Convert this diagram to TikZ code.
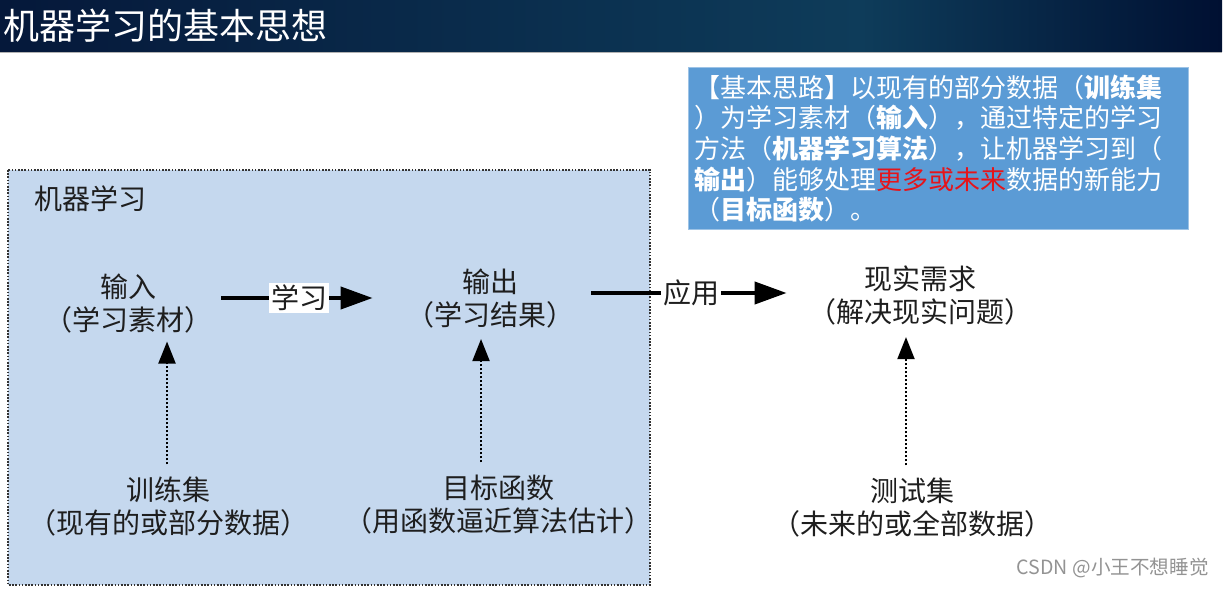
\documentclass[tikz,border=0pt]{standalone}
\usepackage{fontspec}
\setmainfont{Noto Sans CJK SC}
\usetikzlibrary{arrows.meta,calc}
\definecolor{tleft}{RGB}{5,24,58}
\definecolor{tmid}{RGB}{14,60,90}
\definecolor{tright}{RGB}{0,16,50}
\definecolor{boxblue}{RGB}{197,216,238}
\definecolor{infoblue}{RGB}{91,155,213}
\definecolor{hotred}{RGB}{230,20,26}
\definecolor{bodytext}{RGB}{30,30,30}
\begin{document}
\begin{tikzpicture}[x=0.5pt,y=-0.5pt,
  body/.style={align=center,inner sep=0pt,text=bodytext,font=\fontsize{14}{16.5}\selectfont},
  bigarr/.style={line width=2pt,-{Triangle[length=16pt,width=11pt]}},
  dotarr/.style={line width=1pt,dash pattern=on 1pt off 1pt,-{Triangle[length=11pt,width=8.5pt]}},
  arrlabel/.style={fill=white,inner sep=1pt,text=bodytext,font=\fontsize{14}{16.5}\selectfont}]
\useasboundingbox (0,0) rectangle (1224,588);
% title bar
\shade[left color=tleft,right color=tmid] (0,0) rectangle (860,52);
\shade[left color=tmid,right color=tright] (860,0) rectangle (1222,52);
\draw[gray!60,line width=0.6pt] (0,52.5) -- (1222,52.5);
\node[anchor=west,inner sep=0pt,text=white,font=\fontsize{18}{20}\selectfont] (title) at (3,26) {机器学习的基本思想};
% machine learning box
\draw[fill=boxblue,draw=gray!40!black,line width=0.9pt,dash pattern=on 0.8pt off 0.8pt] (8,170) rectangle (650,585);
\node[body,font=\fontsize{14}{16}\selectfont] (mltitle) at (90,199) {机器学习};
% nodes
\node[body] (in) at (128,303.5) {输入\\（学习素材）};
\node[body] (out) at (490,299) {输出\\（学习结果）};
\node[body] (need) at (920,295) {现实需求\\（解决现实问题）};
\node[body] (train) at (168,506.5) {训练集\\（现有的或部分数据）};
\node[body] (tgt) at (498,504.5) {目标函数\\（用函数逼近算法估计）};
\node[body] (test) at (912,507.5) {测试集\\（未来的或全部数据）};
% solid arrows
\draw[bigarr,shorten <=4.5pt,shorten >=16.5pt] ([yshift=2.75pt]in.east) -- ([yshift=2.75pt]in.east -| out.west)
  node[arrlabel,pos=0.45] (learn) {学习};
\draw[bigarr,shorten <=8.5pt,shorten >=10.5pt] ([yshift=3pt]out.east) -- ([yshift=3pt]out.east -| need.west)
  node[arrlabel,pos=0.5] (apply) {应用};
% dotted arrows
\draw[dotarr] ($(train.north)+(-1,-12)$) -- ($(train.north |- in.south)+(-1,8)$);
\draw[dotarr] ($(tgt.north)+(-17,-12)$) -- ($(tgt.north |- out.south)+(-17,10)$);
\draw[dotarr] ($(test.north)+(-6,-12)$) -- ($(test.north |- need.south)+(-6,12)$);
% info box
\node[anchor=north west,fill=infoblue,draw=infoblue!60!white,line width=0.5pt,
      minimum width=250pt,minimum height=81pt,inner xsep=3pt,inner ysep=2pt,
      text width=244pt,align=left,text=white,font=\fontsize{13}{15.3}\selectfont] (info) at (688,67)
  {【基本思路】以现有的部分数据（\textbf{训练集}\\
   ）为学习素材（\textbf{输入}），通过特定的学习\\
   方法（\textbf{机器学习算法}），让机器学习到（\\
   \textbf{输出}）能够处理\textcolor{hotred}{更多或未来}数据的新能力\\
   （\textbf{目标函数}）。};
% watermark
\node[anchor=east,inner sep=0pt,text=gray!85,font=\fontsize{9.8}{11}\selectfont] (wm) at (1209,568) {CSDN @小王不想睡觉};
\end{tikzpicture}
\end{document}
